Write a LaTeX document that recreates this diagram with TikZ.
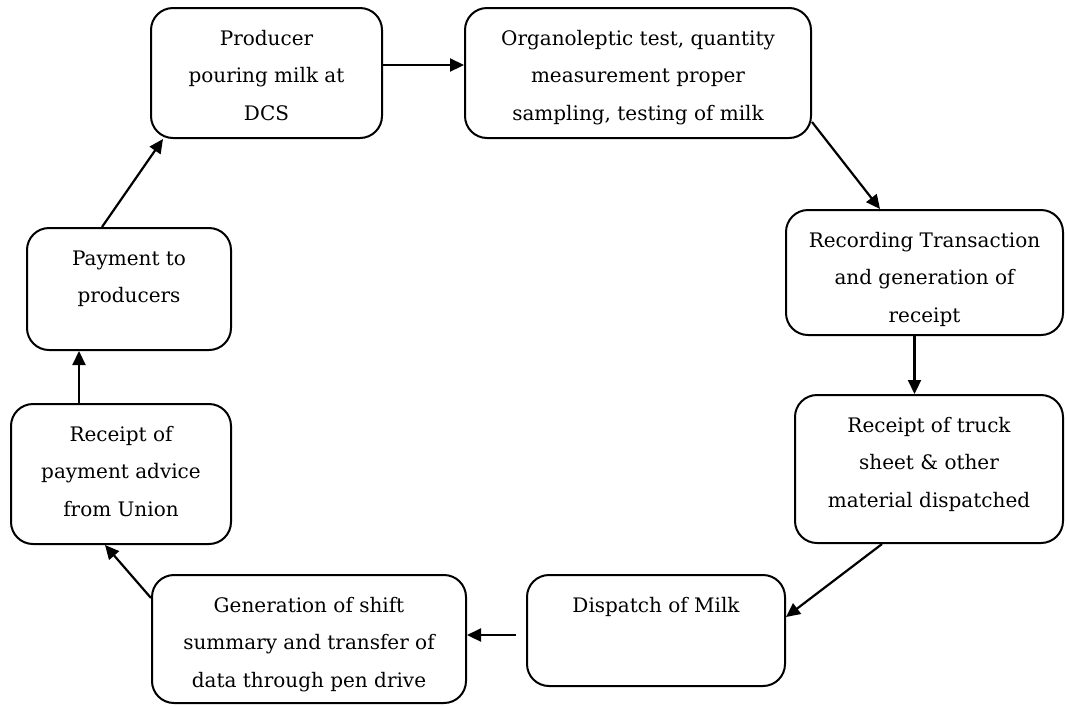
\documentclass[tikz,border=0pt]{standalone}
\usepackage{fontspec}
\setmainfont{DejaVu Serif}
\usetikzlibrary{arrows.meta}

\newcommand{\boxtext}[3]{\parbox[c][#2][t]{#1}{\centering\rule{0pt}{37pt}#3}}

\begin{document}
\begin{tikzpicture}[x=1pt, y=-1pt, line width=2pt,
    main/.style = {draw, rounded corners=22pt, inner sep=0pt, font=\fontsize{20}{37.5}\selectfont},
    flow/.style = {-{Triangle[length=14pt, width=13pt]}, line width=2.2pt}]
    \useasboundingbox (0,0) rectangle (1067,705);
    \node[main](1) at (266.5,73) {\boxtext{231pt}{130pt}{Producer\\ pouring milk at\\ DCS}};
    \node[main](2) at (638,73) {\boxtext{346pt}{130pt}{Organoleptic test, quantity\\ measurement proper\\ sampling, testing of milk}};
    \node[main](3) at (924.5,272.5) {\boxtext{277pt}{125pt}{Recording Transaction\\ and generation of\\ receipt}};
    \node[main](4) at (929,469) {\boxtext{268pt}{148pt}{Receipt of truck\\ sheet \& other\\ material dispatched}};
    \node[main](5) at (656,630.5) {\boxtext{258pt}{111pt}{Dispatch of Milk}};
    \node[main](6) at (309,639) {\boxtext{314pt}{128pt}{Generation of shift\\ summary and transfer of\\ data through pen drive}};
    \node[main](7) at (121,474) {\boxtext{220pt}{140pt}{Receipt of\\ payment advice\\ from Union}};
    \node[main](8) at (129,289) {\boxtext{204pt}{122pt}{Payment to\\ producers}};
    \draw[flow] ([yshift=8pt]1.east) to ([yshift=8pt]2.west);
    \draw[flow] ([yshift=-49pt]2.east) to ([xshift=-44.5pt]3.north);
    \draw[flow] ([xshift=-10pt]3.south) to ([xshift=-10pt]3.south |- 4.north);
    \draw[flow] ([xshift=-47pt]4.south) to ([yshift=13.5pt]5.east);
    \draw[flow] ([xshift=-10pt, yshift=-4.5pt]5.west) to ([yshift=4pt]6.east);
    \draw[flow] ([yshift=41pt]6.west) to ([xshift=-16pt]7.south);
    \draw[flow] ([xshift=-42pt]7.north) to ([xshift=-42pt]7.north |- 8.south);
    \draw[flow] ([xshift=-27pt]8.north) to ([xshift=-103.5pt]1.south);
\end{tikzpicture}
\end{document}
